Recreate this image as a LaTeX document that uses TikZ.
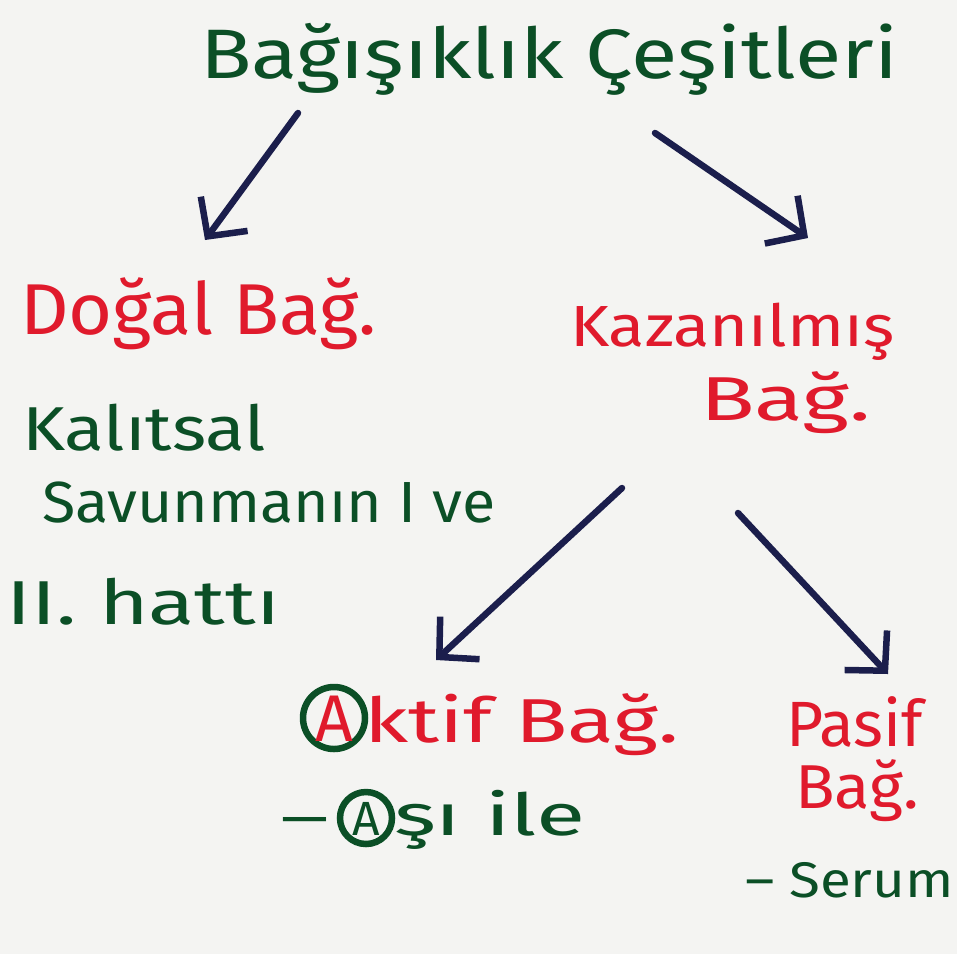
\documentclass[tikz,border=0pt]{standalone}
\usepackage{fontspec}
\setmainfont{Fira Sans}
\usetikzlibrary{arrows.meta}
\definecolor{ink}{HTML}{0B4F26}
\definecolor{redink}{HTML}{E01A2C}
\definecolor{navy}{HTML}{1B1E4C}
\definecolor{paper}{HTML}{F4F4F2}
\newcommand{\wide}[2]{\scalebox{#1}[1]{#2}}
\begin{document}
\begin{tikzpicture}[x=1pt,y=-1pt,
  txt/.style={inner sep=0pt, outer sep=0pt, anchor=base west},
  grn/.style={txt, text=ink},
  rd/.style={txt, text=redink},
  fs/.style={font=\fontsize{#1}{#1}\selectfont},
  ring/.style={circle, draw=ink, line width=6.5pt, inner sep=0pt},
  arr/.style={draw=navy, line width=6.5pt, line cap=round, line join=round,
    -{Straight Barb[length=28pt,width=58pt]}}]
\fill[paper] (0,0) rectangle (957,954);
\useasboundingbox (0,0) rectangle (957,954);

% title
\node[grn, fs=70] (title) at (200,78) {\wide{1.21}{Bağışıklık Çeşitleri}};

% left branch
\node[rd, fs=72] (dogal) at (20,334) {\wide{1.05}{Doğal Bağ.}};
\node[grn, fs=62] (kal) at (22,450) {\wide{1.18}{Kalıtsal}};
\node[grn, fs=58] (sav) at (42,522) {\wide{1.05}{Savunmanın I ve}};
\node[grn, fs=62] (hat) at (6,624) {\wide{1.37}{II. hattı}};

% right branch
\node[rd, fs=58] (kaz) at (570,346) {\wide{1.15}{Kazanılmış}};
\node[rd, fs=62] (kbag) at (700,420) {\wide{1.45}{Bağ.}};

% aktif
\node[ring, minimum size=62pt] (ringA) at (334,718) {};
\node[rd, fs=66, anchor=base] (A1) at (334,741) {A};
\node[rd, fs=62] (aktif) at (364,742) {\wide{1.39}{ktif Bağ.}};
\node[grn, fs=54] (dash1) at (281,836) {\wide{1.1}{—}};
\node[ring, minimum size=52pt] (ringB) at (366,818) {};
\node[grn, fs=48, anchor=base] (A2) at (366,835) {A};
\node[grn, fs=58] (asi) at (394,835) {\wide{1.55}{şı ile}};

% pasif
\node[rd, fs=64] (pasif) at (786,746) {Pasif};
\node[rd, fs=62] (pbag) at (795,808) {\wide{1.05}{Bağ.}};
\node[grn, fs=50] (serum) at (745,897) {\wide{1.13}{– Serum}};

% arrows
\coordinate (s1) at (298,113);
\coordinate (e1) at (205,240);
\coordinate (s2) at (655,133);
\coordinate (e2) at (808,238);
\coordinate (s3) at (622,488);
\coordinate (e3) at (436,660);
\coordinate (s4) at (738,513);
\coordinate (e4) at (888,674);
\draw[arr] (s1) -- (e1);
\draw[arr] (s2) -- (e2);
\draw[arr] (s3) -- (e3);
\draw[arr] (s4) -- (e4);
\end{tikzpicture}
\end{document}
